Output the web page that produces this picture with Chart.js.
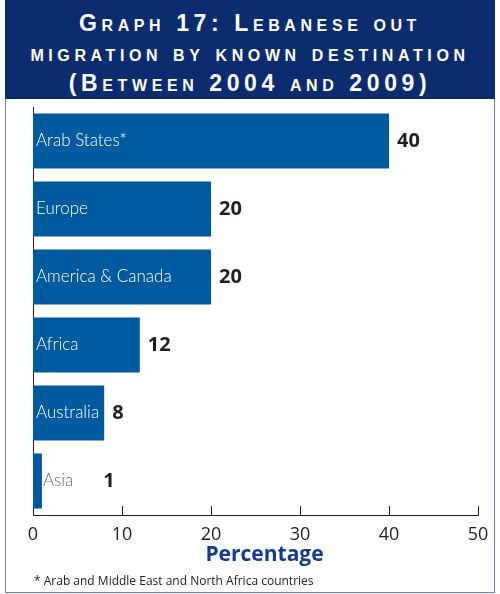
<!DOCTYPE html>
<html>
<head>
<meta charset="utf-8">
<script src="https://cdn.jsdelivr.net/npm/chart.js@4"></script>
<style>
  html, body { margin: 0; padding: 0; background: #fff; }
  #wrap { position: relative; width: 500px; height: 594px; overflow: hidden; }
  #frame {
    position: absolute; left: 5px; top: 0; width: 488px; height: 592px;
    border: 1px solid #6f82b0; border-top: none;
  }
  #head {
    position: absolute; left: 5px; top: 0; width: 490px; height: 99px;
    background: #0b2c6e; color: #fff; text-align: center;
    font-family: "Liberation Sans", sans-serif; font-weight: bold;
    font-variant: small-caps; font-size: 23px; letter-spacing: 4.6px;
    line-height: 30px; padding-top: 8px; box-sizing: border-box;
    white-space: nowrap;
  }
  #note {
    position: absolute; left: 34px; top: 572px;
    font-family: "Open Sans", sans-serif; font-size: 12px; color: #222;
  }
  canvas { position: absolute; left: 0; top: 0; }
</style>
</head>
<body>
<div id="wrap">
  <div id="frame"></div>
  <div id="head">Graph 17: Lebanese out<br>migration by known destination<br>(Between 2004 and 2009)</div>
  <canvas id="myChart" width="500" height="594"></canvas>
  <div id="note">* Arab and Middle East and North Africa countries</div>
</div>
<script>
let destinations = ["Arab States*", "Europe", "America & Canada", "Africa", "Australia", "Asia"]
let shares = [40, 20, 20, 12, 8, 1]
let xTicks = [0, 10, 20, 30, 40, 50]

let barColor = "#005a9f"

// labels inside the bars plus the value after each bar
let barText = {
  id: "barText",
  afterDatasetsDraw(chart) {
    let ctx = chart.ctx
    let meta = chart.getDatasetMeta(0)
    ctx.save()
    ctx.textBaseline = "middle"
    meta.data.forEach((bar, i) => {
      let left = chart.scales.x.getPixelForValue(0)
      ctx.font = "300 17px Lato"
      let w = ctx.measureText(destinations[i]).width
      let labelEnd
      if (w + 4 < bar.x - left) {
        ctx.fillStyle = "#ffffff"
        ctx.fillText(destinations[i], left + 3, bar.y)
        labelEnd = bar.x
      } else {
        ctx.fillStyle = "#666666"
        ctx.fillText(destinations[i], bar.x + 1, bar.y)
        labelEnd = bar.x + 1 + w + 22
      }
      ctx.font = "bold 20px 'Open Sans'"
      ctx.fillStyle = "#231f20"
      ctx.fillText(shares[i], labelEnd + 8, bar.y)
    })
    ctx.restore()
  }
}

// tick marks pointing up into the plot, and the axis title
let innerTicks = {
  id: "innerTicks",
  afterDraw(chart) {
    let ctx = chart.ctx
    let x = chart.scales.x
    let bottom = chart.chartArea.bottom
    ctx.save()
    ctx.strokeStyle = "#231f20"
    ctx.lineWidth = 1
    xTicks.slice(1).forEach(v => {
      let px = Math.round(x.getPixelForValue(v)) + 0.5
      ctx.beginPath()
      ctx.moveTo(px, bottom)
      ctx.lineTo(px, bottom - 9)
      ctx.stroke()
    })
    ctx.font = "bold 21px 'Open Sans'"
    ctx.fillStyle = "#123d8a"
    ctx.textAlign = "center"
    ctx.textBaseline = "middle"
    ctx.fillText("Percentage", (x.left + x.right) / 2 + 9, bottom + 40)
    ctx.restore()
  }
}

new Chart(document.getElementById("myChart"), {
  type: "bar",
  data: {
    labels: destinations,
    datasets: [{ data: shares, backgroundColor: barColor, borderWidth: 0,
                 barPercentage: 0.81, categoryPercentage: 1 }]
  },
  options: {
    indexAxis: "y",
    responsive: false,
    animation: false,
    layout: { padding: { left: 33, right: 22, top: 107, bottom: 19 } },
    plugins: { legend: { display: false }, tooltip: { enabled: false } },
    scales: {
      x: {
        min: 0, max: 50,
        afterFit: s => { s.height = 60 },
        afterBuildTicks: s => { s.ticks = xTicks.map(v => ({ value: v })) },
        grid: { display: false },
        border: { color: "#231f20", width: 1 },
        ticks: { color: "#231f20", padding: 1, font: { family: "'Open Sans'", size: 18 } }
      },
      y: {
        afterFit: s => { s.width = 0 },
        grid: { display: false },
        border: { color: "#231f20", width: 1 },
        ticks: { display: false }
      }
    }
  },
  plugins: [barText, innerTicks]
})
</script>
</body>
</html>
